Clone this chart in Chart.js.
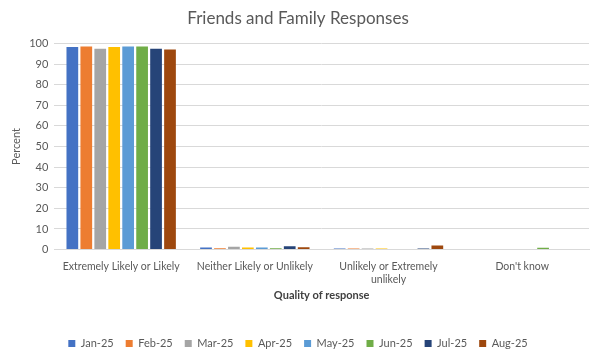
<!DOCTYPE html>
<html>
<head>
<meta charset="utf-8">
<script src="https://cdn.jsdelivr.net/npm/chart.js@4"></script>
<style>
  html, body { margin: 0; padding: 0; background: #fff; overflow: hidden; }
  #wrap { width: 600px; height: 359px; }
</style>
</head>
<body>
<div id="wrap"><canvas id="myChart"></canvas></div>
<script>
const categories = [
    "Extremely Likely or Likely",
    "Neither Likely or Unlikely",
    ["Unlikely or Extremely", "unlikely"],
    "Don't know"
];
const months = ["Jan-25", "Feb-25", "Mar-25", "Apr-25", "May-25", "Jun-25", "Jul-25", "Aug-25"];
const jan = [98.2, 1.0, 0.5, 0];
const feb = [98.5, 0.6, 0.5, 0];
const mar = [97.4, 1.4, 0.5, 0];
const apr = [98.2, 1.0, 0.5, 0];
const may = [98.5, 1.0, 0, 0];
const jun = [98.5, 0.6, 0, 0.9];
const jul = [97.4, 1.6, 0.5, 0];
const aug = [97.0, 1.1, 2.0, 0];
const yTicks = [0, 10, 20, 30, 40, 50, 60, 70, 80, 90, 100];

const colors = ["#4472C4", "#ED7D31", "#A5A5A5", "#FFC000", "#5B9BD5", "#70AD47", "#264478", "#9E480E"];
const series = [jan, feb, mar, apr, may, jun, jul, aug];

const font = "Lato, 'Liberation Sans', sans-serif";
const grey = "#595959";

const ctx = document.getElementById('myChart');

new Chart(ctx, {
    type: 'bar',
    data: {
        labels: categories,
        datasets: series.map(function (values, i) {
            return {
                label: months[i],
                data: values,
                backgroundColor: colors[i],
                categoryPercentage: 0.835,
                barPercentage: 0.84
            };
        })
    },
    options: {
        responsive: true,
        maintainAspectRatio: false,
        animation: false,
        layout: { padding: { left: 7, right: 11, top: 6, bottom: 0 } },
        plugins: {
            title: {
                display: true,
                text: "Friends and Family Responses",
                color: grey,
                font: { family: font, size: 17, weight: 'normal' },
                padding: { top: 2, bottom: 15 }
            },
            legend: {
                position: 'bottom',
                labels: {
                    color: grey,
                    font: { family: font, size: 11 },
                    boxWidth: 7,
                    boxHeight: 7,
                    padding: 12
                }
            },
            tooltip: { enabled: false }
        },
        scales: {
            x: {
                grid: { display: false },
                border: { color: "#d9d9d9" },
                ticks: {
                    color: grey,
                    font: { family: font, size: 10.5 },
                    maxRotation: 0,
                    autoSkip: false,
                    padding: 3
                },
                title: {
                    display: true,
                    text: "Quality of response",
                    color: "#404040",
                    font: { family: font, size: 11, weight: 'bold' },
                    padding: { top: 0, bottom: 24 }
                }
            },
            y: {
                min: 0,
                max: 100,
                afterBuildTicks: function (axis) {
                    axis.ticks = yTicks.map(function (v) { return { value: v }; });
                },
                grid: { color: "#d9d9d9", drawTicks: false },
                border: { display: false },
                ticks: {
                    color: grey,
                    font: { family: font, size: 11 },
                    padding: 6
                },
                title: {
                    display: true,
                    text: "Percent",
                    color: grey,
                    font: { family: font, size: 11, weight: 'normal' },
                    padding: { top: 3, bottom: 0 }
                }
            }
        }
    }
});
</script>
</body>
</html>
